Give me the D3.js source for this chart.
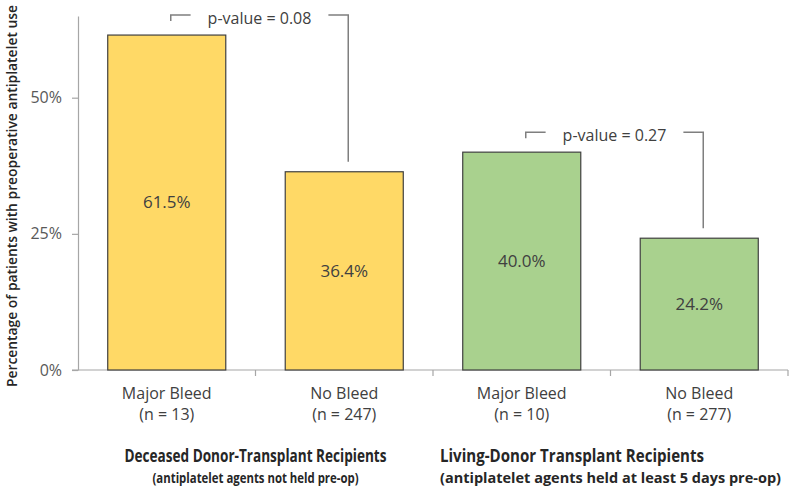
<!DOCTYPE html>
<meta charset="utf-8">
<style>
body { margin: 0; background: #fff; }
text { font-family: "Open Sans", sans-serif; }
.bar { stroke: #404040; stroke-width: 1.2px; }
.axis path, .axis line { stroke: #a6a6a6; stroke-width: 1.2px; }
.axis text { fill: #595959; font-size: 16px; font-family: "Open Sans", sans-serif; }
.bracket { fill: none; stroke: #7f7f7f; stroke-width: 1.5px; }
</style>
<body>
<svg width="790" height="489"></svg>
<script src="https://d3js.org/d3.v7.min.js"></script>
<script>

// chart values
var categories = ["Major Bleed", "No Bleed", "Major Bleed", "No Bleed"];
var sampleSizes = ["(n = 13)", "(n = 247)", "(n = 10)", "(n = 277)"];
var values = [61.5, 36.4, 40.0, 24.2];
var groupOf = [0, 0, 1, 1];
var groupTitles = ["Deceased Donor-Transplant Recipients", "Living-Donor Transplant Recipients"];
var groupNotes = ["(antiplatelet agents not held pre-op)", "(antiplatelet agents held at least 5 days pre-op)"];
var groupColors = ["#ffd966", "#a9d18e"];
var pValues = ["p-value = 0.08", "p-value = 0.27"];
var yTicks = [0, 25, 50];

var margin = {top: 16, right: 2, bottom: 119, left: 78},
    width = 790 - margin.left - margin.right,
    height = 489 - margin.top - margin.bottom;

var svg = d3.select("svg")
  .append("g")
    .attr("transform", "translate(" + margin.left + "," + margin.top + ")");

var x = d3.scaleBand()
    .domain(d3.range(values.length))
    .range([0, width])
    .paddingInner(0.335)
    .paddingOuter(0.1675);

var y = d3.scaleLinear().domain([0, 65]).range([height, 0]);

// y axis
svg.append("g")
    .attr("class", "axis")
    .call(d3.axisLeft(y).tickValues(yTicks).tickSize(6).tickSizeOuter(0)
      .tickFormat(function(d) { return d + "%"; }))
    .call(function(g) { g.selectAll("text").attr("x", -16); });

// x axis line with ticks at the category boundaries
var xa = svg.append("g").attr("class", "axis");
xa.append("line").attr("x1", -6).attr("x2", width).attr("y1", height).attr("y2", height);
xa.selectAll(".bt")
    .data(d3.range(1, values.length + 1))
  .enter().append("line")
    .attr("x1", function(d) { return d * x.step(); })
    .attr("x2", function(d) { return d * x.step(); })
    .attr("y1", height).attr("y2", height + 6);

// bars
svg.selectAll(".bar")
    .data(values)
  .enter().append("rect")
    .attr("class", "bar")
    .attr("x", function(d, i) { return x(i); })
    .attr("width", x.bandwidth())
    .attr("y", function(d) { return y(d); })
    .attr("height", function(d) { return height - y(d); })
    .attr("fill", function(d, i) { return groupColors[groupOf[i]]; });

// value labels
svg.selectAll(".val")
    .data(values)
  .enter().append("text")
    .attr("x", function(d, i) { return x(i) + x.bandwidth() / 2; })
    .attr("y", function(d) { return (y(d) + height) / 2; })
    .attr("dy", "0.35em")
    .attr("text-anchor", "middle")
    .style("font-size", "17px")
    .style("fill", "#404040")
    .text(function(d) { return d.toFixed(1) + "%"; });

// category labels
var cat = svg.selectAll(".cat")
    .data(categories)
  .enter().append("text")
    .attr("text-anchor", "middle")
    .style("font-size", "16px")
    .style("fill", "#404040")
    .attr("transform", function(d, i) {
      return "translate(" + (x(i) + x.bandwidth() / 2) + "," + (height + 29) + ")"; });
cat.append("tspan").attr("x", 0).text(function(d) { return d; });
cat.append("tspan").attr("x", 0).attr("dy", 21).text(function(d, i) { return sampleSizes[i]; });

// group titles (bold face squeezed to the original width)
var titleWidths = [262, 264], noteWidths = [206, 341];
groupTitles.forEach(function(t, g) {
  var idx = d3.range(values.length).filter(function(i) { return groupOf[i] === g; });
  var cx = d3.mean(idx, function(i) { return x(i) + x.bandwidth() / 2; });
  var note = svg.append("text")
      .attr("x", cx).attr("y", height + 113)
      .attr("text-anchor", "middle")
      .attr("textLength", noteWidths[g]).attr("lengthAdjust", "spacingAndGlyphs")
      .style("font-size", "14px").style("font-weight", 700).style("fill", "#262626")
      .text(groupNotes[g]);
  var title = svg.append("text")
      .attr("y", height + 92)
      .attr("textLength", titleWidths[g]).attr("lengthAdjust", "spacingAndGlyphs")
      .style("font-size", "17px").style("font-weight", 700).style("fill", "#262626")
      .text(t);
  if (g === 0) {
    title.attr("x", cx).attr("text-anchor", "middle");
  } else {
    title.attr("x", cx - noteWidths[g] / 2);
  }
});

// p-value brackets
[[0, 1], [2, 3]].forEach(function(pair, k) {
  var a = pair[0], b = pair[1];
  var x1 = x(a) + x.bandwidth() / 2 + 4,
      x2 = x(b) + x.bandwidth() / 2 + 4;
  var by = y(Math.max(values[a], values[b])) - 20;
  var label = svg.append("text")
      .attr("x", (x1 + x2) / 2).attr("y", by + 3)
      .attr("dy", "0.35em")
      .attr("text-anchor", "middle")
      .style("font-size", "16px").style("fill", "#404040")
      .text(pValues[k]);
  var bb = label.node().getBBox();
  svg.append("path").attr("class", "bracket")
      .attr("d", "M" + x1 + "," + (by + 6) + "V" + by + "H" + (bb.x - 17));
  svg.append("path").attr("class", "bracket")
      .attr("d", "M" + (bb.x + bb.width + 17) + "," + by + "H" + x2 + "V" + (y(values[b]) - 10));
});

// y axis title
svg.append("text")
    .attr("transform", "translate(" + (-margin.left + 12) + "," + (196 - margin.top) + ") rotate(-90)")
    .attr("dy", "0.35em")
    .attr("text-anchor", "middle")
    .attr("textLength", 382).attr("lengthAdjust", "spacingAndGlyphs")
    .style("font-size", "14px").style("font-weight", 600).style("fill", "#262626")
    .text("Percentage of patients with preoperative antiplatelet use");

</script>
</body>
